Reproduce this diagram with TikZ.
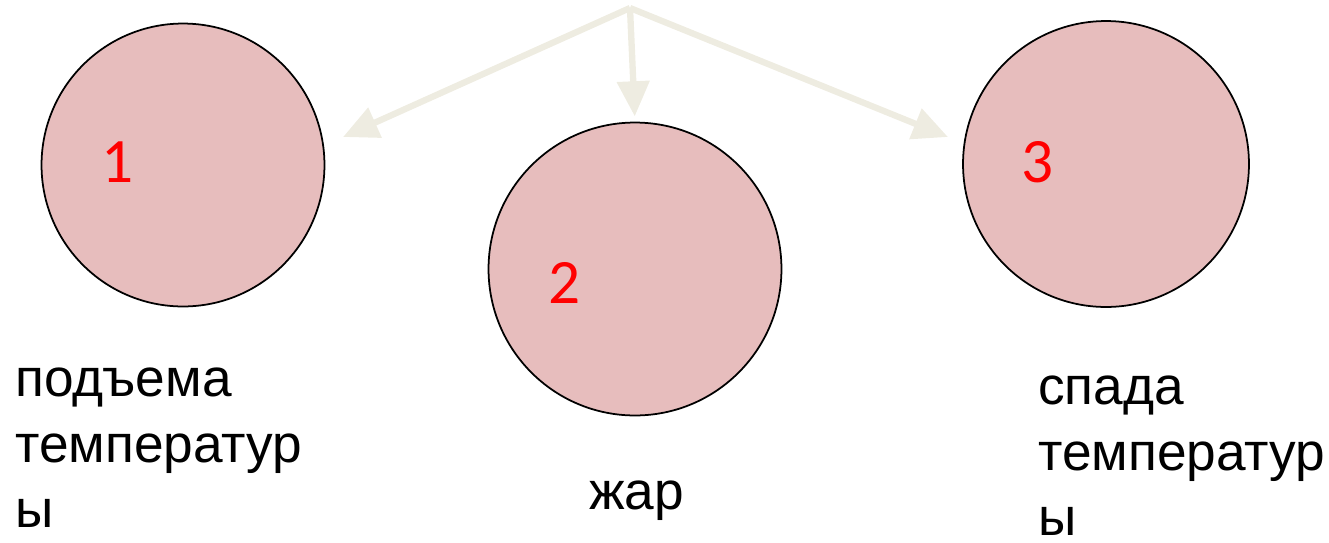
\documentclass[tikz,border=0pt]{standalone}
\usepackage{fontspec}
\setmainfont{Liberation Sans}
\newfontfamily\numfont{Carlito}
\usetikzlibrary{arrows.meta, calc}
\definecolor{skin}{RGB}{231,189,189}
\definecolor{beige}{RGB}{238,236,225}
\tikzstyle{stage} = [circle, draw=black, line width=1pt, fill=skin, inner sep=0pt]
\tikzstyle{number} = [text=red, font=\numfont\fontsize{36}{40}\selectfont]
\tikzstyle{caption} = [align=left, anchor=base west, inner sep=0pt, font=\fontsize{30.3}{37}\selectfont]
\tikzstyle{pointer} = [draw=beige, line width=3.6pt, -{Triangle[length=20pt,width=18pt]}]

\begin{document}
\begin{tikzpicture}[x=0.02cm, y=-0.02cm]
    \useasboundingbox (0,0) rectangle (1329,542);
    % Stages
    \node (c1) [stage, minimum size=5.66cm] at (183,165) {};
    \node (c2) [stage, minimum size=5.86cm] at (635,269) {};
    \node (c3) [stage, minimum size=5.72cm] at (1106,164) {};

    \node (n1) [number] at ($(c1.center)+(-65,-3)$) {1};
    \node (n2) [number] at ($(c2.center)+(-70,14)$) {2};
    \node (n3) [number] at ($(c3.center)+(-68,-2)$) {3};

    % base is on the last line
    \node (l1) [caption] at (15,527) {подъема\\температур\\ы};
    \node (l2) [caption] at (589,509) {жар};
    \node (l3) [caption] at (1038,535) {спада\\температур\\ы};

    % Pointers
    \coordinate (top) at (630,8);
    \coordinate (t1) at (343,137);
    \coordinate (t3) at (948,137);
    \draw [pointer] (top) -- (t1);
    \draw [pointer, shorten >=3pt] (top) -- (c2.north);
    \draw [pointer] (top) -- (t3);
\end{tikzpicture}
\end{document}
